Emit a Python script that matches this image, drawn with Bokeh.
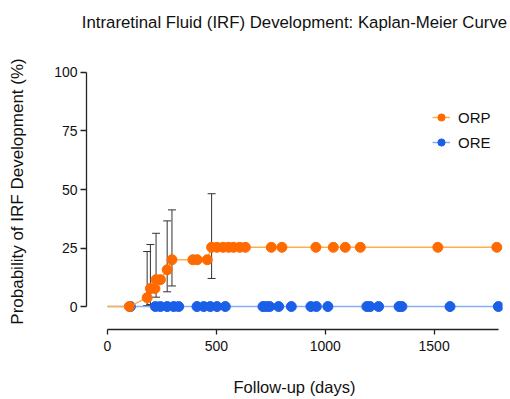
from bokeh.plotting import figure
from bokeh.models import Range1d, FixedTicker, Legend, LegendItem, ColumnDataSource, Whisker, LinearAxis
from bokeh.embed import file_html
from bokeh.resources import INLINE

# ---- data ----
title_text = "Intraretinal Fluid (IRF) Development: Kaplan-Meier Curve"

orp_days = [0, 100, 182, 197, 218, 223, 243, 274, 296, 392, 412, 458, 478, 503, 531,
            556, 579, 607, 633, 752, 801, 957, 1037, 1092, 1161, 1517, 1788]
orp_prob = [0, 0, 3.8, 7.7, 7.7, 11.5, 11.5, 15.7, 20.0, 20.0, 20.0, 20.0, 25.3, 25.3, 25.3,
            25.3, 25.3, 25.3, 25.3, 25.3, 25.3, 25.3, 25.3, 25.3, 25.3, 25.3, 25.3]

ore_days = [0, 105, 220, 243, 274, 304, 327, 411, 442, 472, 503, 541, 714, 730, 745,
            786, 844, 934, 959, 1012, 1191, 1206, 1245, 1339, 1352, 1573, 1795]
ore_prob = [0] * len(ore_days)

ci_days = [182, 197, 223, 274, 296, 478]
ci_lower = [0.4, 0.9, 4.0, 6.3, 8.8, 12.0]
ci_upper = [23.5, 26.5, 31.3, 36.6, 41.3, 48.2]

x_ticks = [0, 500, 1000, 1500]
y_ticks = [0, 25, 50, 75, 100]

ORANGE = "#FF6A00"
ORANGE_LINE = "#FFB04D"
BLUE = "#1A5FE8"
BLUE_LINE = "#86AEF5"
FONT = "Liberation Sans"

p = figure(width=510, height=399, output_backend="svg", toolbar_location=None,
           x_range=Range1d(-96.5, 1814), y_range=Range1d(-9.8, 108.1),
           min_border_left=86, min_border_right=8, min_border_top=53, min_border_bottom=70)
p.outline_line_color = None
p.xgrid.visible = False
p.ygrid.visible = False

xa = p.below[0]
ya = p.left[0]
for ax, ticks in ((xa, x_ticks), (ya, y_ticks)):
    ax.ticker = FixedTicker(ticks=ticks)
    ax.minor_tick_line_color = None
    ax.axis_line_color = "#222222"
    ax.axis_line_width = 1.3
    ax.major_tick_line_color = "#222222"
    ax.major_tick_line_width = 1.3
    ax.major_tick_in = 0
    ax.major_label_text_font = FONT
    ax.major_label_text_font_size = "14px"
    ax.major_label_text_color = "#111111"
    ax.axis_label_text_font = FONT
    ax.axis_label_text_font_size = "17px"
    ax.axis_label_text_font_style = "normal"
    ax.axis_label_text_color = "#111111"

xa.bounds = (0, 1795)
ya.bounds = (0, 100)
xa.axis_label = "Follow-up (days)"
ya.axis_label = "Probability of IRF Development (%)"
xa.axis_label_text_font_size = "16.5px"
xa.major_tick_out = 5
ya.major_tick_out = 6
xa.major_label_standoff = 6
ya.major_label_standoff = 3
xa.axis_label_standoff = 24
ya.axis_label_standoff = 24

# title drawn as the label of a bare axis above the plot
title_axis = LinearAxis(ticker=FixedTicker(ticks=[]), axis_label=title_text,
                        axis_line_color=None, major_tick_line_color=None,
                        minor_tick_line_color=None, major_label_text_alpha=0,
                        axis_label_standoff=22,
                        axis_label_text_font=FONT, axis_label_text_font_size="16.8px",
                        axis_label_text_font_style="normal", axis_label_text_color="#111111")
p.add_layout(title_axis, "above")

# whiskers (CI)
ci_src = ColumnDataSource(dict(x=ci_days, lo=ci_lower, hi=ci_upper))
w = Whisker(base="x", lower="lo", upper="hi", source=ci_src, line_color="#333333", line_width=1)
w.upper_head.size = 8
w.lower_head.size = 8
w.upper_head.line_color = "#333333"
w.lower_head.line_color = "#333333"
p.add_layout(w)

ore_line = p.line(ore_days, ore_prob, line_color=BLUE_LINE, line_width=1.5)
ore_pts = p.scatter(ore_days[1:], ore_prob[1:], size=10, color=BLUE)
orp_line = p.line(orp_days, orp_prob, line_color=ORANGE_LINE, line_width=1.5)
orp_pts = p.scatter(orp_days[1:], orp_prob[1:], size=10, color=ORANGE)

legend = Legend(items=[LegendItem(label="ORP", renderers=[orp_line, orp_pts]),
                       LegendItem(label="ORE", renderers=[ore_line, ore_pts])],
                location=(346, 177), padding=0, margin=0, spacing=5,
                glyph_width=18, glyph_height=20, label_standoff=8,
                border_line_alpha=0, background_fill_alpha=0,
                label_text_font=FONT, label_text_font_size="15px", label_text_color="#111111")
p.add_layout(legend)

open("out.html", "w").write(file_html(p, INLINE))
